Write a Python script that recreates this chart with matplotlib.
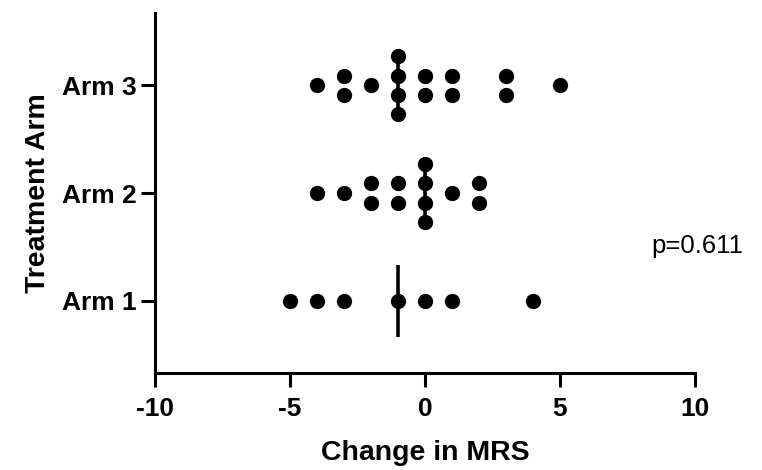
import matplotlib.pyplot as plt
import numpy as np

plt.rcParams['font.family'] = ['Liberation Sans', 'DejaVu Sans']

arms = ['Arm 1', 'Arm 2', 'Arm 3']
arm1 = [-5, -4, -3, -1, 0, 1, 4]
arm2 = [-4, -3, -2, -2, -1, -1, 0, 0, 0, 0, 1, 2, 2]
arm3 = [-4, -3, -3, -2, -1, -1, -1, -1, 0, 0, 1, 1, 3, 3, 5]
xticks = [-10, -5, 0, 5, 10]
p_text = 'p=0.611'

fig = plt.figure(figsize=(7.62, 4.70), dpi=100)
ax = fig.add_axes([0.2034, 0.2064, 0.7087, 0.7659])

step = 0.179  # vertical spacing between stacked dots

for i, vals in enumerate([arm1, arm2, arm3]):
    y0 = i + 1
    vals = np.array(vals)
    # stack repeated values symmetrically around the arm line
    for v in np.unique(vals):
        n = np.sum(vals == v)
        offs = (np.arange(n) - (n - 1) / 2) * step
        ax.plot([v] * n, y0 + offs, 'o', color='black', markersize=11,
                markeredgewidth=0, zorder=3)
    med = np.median(vals)
    ax.plot([med, med], [y0 - 0.335, y0 + 0.335], color='black', lw=2.6,
            solid_capstyle='butt', zorder=2)

ax.set_xlim(-10, 10)
ax.set_ylim(0.33, 3.67)
ax.set_xticks(xticks)
ax.set_xticklabels([str(t) for t in xticks])
ax.set_yticks([1, 2, 3])
ax.set_yticklabels(arms)

for s in ['top', 'right']:
    ax.spines[s].set_visible(False)
for s in ['left', 'bottom']:
    ax.spines[s].set_linewidth(2.2)

ax.tick_params(axis='both', length=10, width=2.2, labelsize=19)
ax.tick_params(axis='x', pad=7)
ax.tick_params(axis='y', pad=3)
for lab in ax.get_xticklabels() + ax.get_yticklabels():
    lab.set_fontweight('bold')

ax.set_xlabel('Change in MRS', fontsize=20.5, fontweight='bold', labelpad=14)
ax.set_ylabel('Treatment Arm', fontsize=20.5, fontweight='bold', labelpad=8)

fig.text(0.855, 1 - 246 / 470, p_text, fontsize=18.5, va='center', ha='left')

fig.savefig('out.png', dpi=100)
